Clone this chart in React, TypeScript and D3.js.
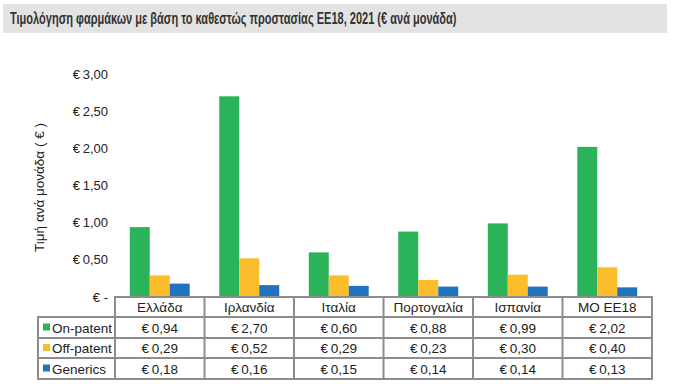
import React, { useLayoutEffect, useRef, useState } from "react";
import * as d3 from "d3";

const categories = ["Ελλάδα", "Ιρλανδία", "Ιταλία", "Πορτογαλία", "Ισπανία", "ΜΟ ΕΕ18"];
const seriesNames = ["On-patent", "Off-patent", "Generics"];
const onPatent = [0.94, 2.7, 0.6, 0.88, 0.99, 2.02];
const offPatent = [0.29, 0.52, 0.29, 0.23, 0.3, 0.4];
const generics = [0.18, 0.16, 0.15, 0.14, 0.14, 0.13];
const yTicks = [0, 0.5, 1, 1.5, 2, 2.5, 3];
const colors = ["#2bb35a", "#fbbd2c", "#1f73c1"];
const title = "Τιμολόγηση φαρμάκων με βάση το καθεστώς προστασίας ΕΕ18, 2021 (€ ανά μονάδα)";
const yTitle = "Τιμή ανά μονάδα ( € )";

const W = 674, H = 386;
const plotL = 115, plotR = 652, plotTop = 74, plotBottom = 297;
const rowYs = [297, 317, 338, 358, 379];
const legendL = 38;
const titleWidth = 447;

const fmt = (v: number) => (v === 0 ? "€ -" : "€\u2009" + v.toFixed(2).replace(".", ","));

export default function App() {
  const titleRef = useRef<SVGTextElement>(null);
  const [sx, setSx] = useState(0.7);
  useLayoutEffect(() => {
    if (titleRef.current) {
      const w = titleRef.current.getComputedTextLength();
      if (w > 0) setSx(titleWidth / w);
    }
  }, []);
  const series = [onPatent, offPatent, generics];
  const x = d3.scaleBand<string>().domain(categories).range([plotL, plotR]).paddingInner(0).paddingOuter(0);
  const y = d3.scaleLinear().domain([0, 3]).range([plotBottom, plotTop]);
  const bw = x.bandwidth();
  const inner = d3.scaleBand<number>().domain([0, 1, 2]).range([0, bw]).paddingInner(0).paddingOuter(0.74);
  const font = "'Liberation Sans', Arial, sans-serif";
  const border = "#8c8c8c";
  return (
    <svg width={W} height={H} style={{ position: "absolute", left: 0, top: 0 }} fontFamily={font}>
      <rect x={0} y={0} width={W} height={H} fill="#fff" />
      <rect x={3} y={4} width={664} height={29} fill="#e3e3e3" />
      <text ref={titleRef} transform={`translate(10,24) scale(${sx},1)`} x={0} y={0} fontSize={16.5} fill="#333" style={{ fontWeight: 600 }}>{title}</text>
      {yTicks.map((t) => (
        <text key={t} x={108} y={y(t) + 4.5} fontSize={13} textAnchor="end" fill="#222">{fmt(t)}</text>
      ))}
      <text transform={`translate(44,${(plotTop + plotBottom) / 2 + 2}) rotate(-90)`} fontSize={13.5} textAnchor="middle" fill="#222">{yTitle}</text>
      {series.map((vals, si) =>
        vals.map((v, ci) => (
          <rect key={si + "-" + ci} x={(x(categories[ci]) as number) + (inner(si) as number)} y={y(v)} width={inner.bandwidth()} height={plotBottom - y(v)} fill={colors[si]} />
        ))
      )}
      <g fill="none" stroke={border} strokeWidth={2}>
        <rect x={plotL} y={rowYs[0]} width={plotR - plotL} height={rowYs[4] - rowYs[0]} />
        <rect x={legendL} y={rowYs[1]} width={plotL - legendL} height={rowYs[4] - rowYs[1]} />
        {rowYs.slice(1, 4).map((ry) => (
          <line key={ry} x1={legendL} x2={plotR} y1={ry} y2={ry} />
        ))}
        {categories.slice(1).map((c) => (
          <line key={c} x1={x(c) as number} x2={x(c) as number} y1={rowYs[0]} y2={rowYs[4]} />
        ))}
      </g>
      {categories.map((c) => (
        <text key={c} x={(x(c) as number) + bw / 2} y={(rowYs[0] + rowYs[1]) / 2 + 5} fontSize={13.5} textAnchor="middle" fill="#222">{c}</text>
      ))}
      {series.map((vals, si) => (
        <g key={si}>
          <rect x={legendL + 5} y={(rowYs[si + 1] + rowYs[si + 2]) / 2 - 4} width={7} height={7} fill={colors[si]} />
          <text x={legendL + 14} y={(rowYs[si + 1] + rowYs[si + 2]) / 2 + 5} fontSize={13.5} fill="#222">{seriesNames[si]}</text>
          {vals.map((v, ci) => (
            <text key={ci} x={(x(categories[ci]) as number) + bw / 2} y={(rowYs[si + 1] + rowYs[si + 2]) / 2 + 5} fontSize={13.5} textAnchor="middle" fill="#222">{fmt(v)}</text>
          ))}
        </g>
      ))}
    </svg>
  );
}
